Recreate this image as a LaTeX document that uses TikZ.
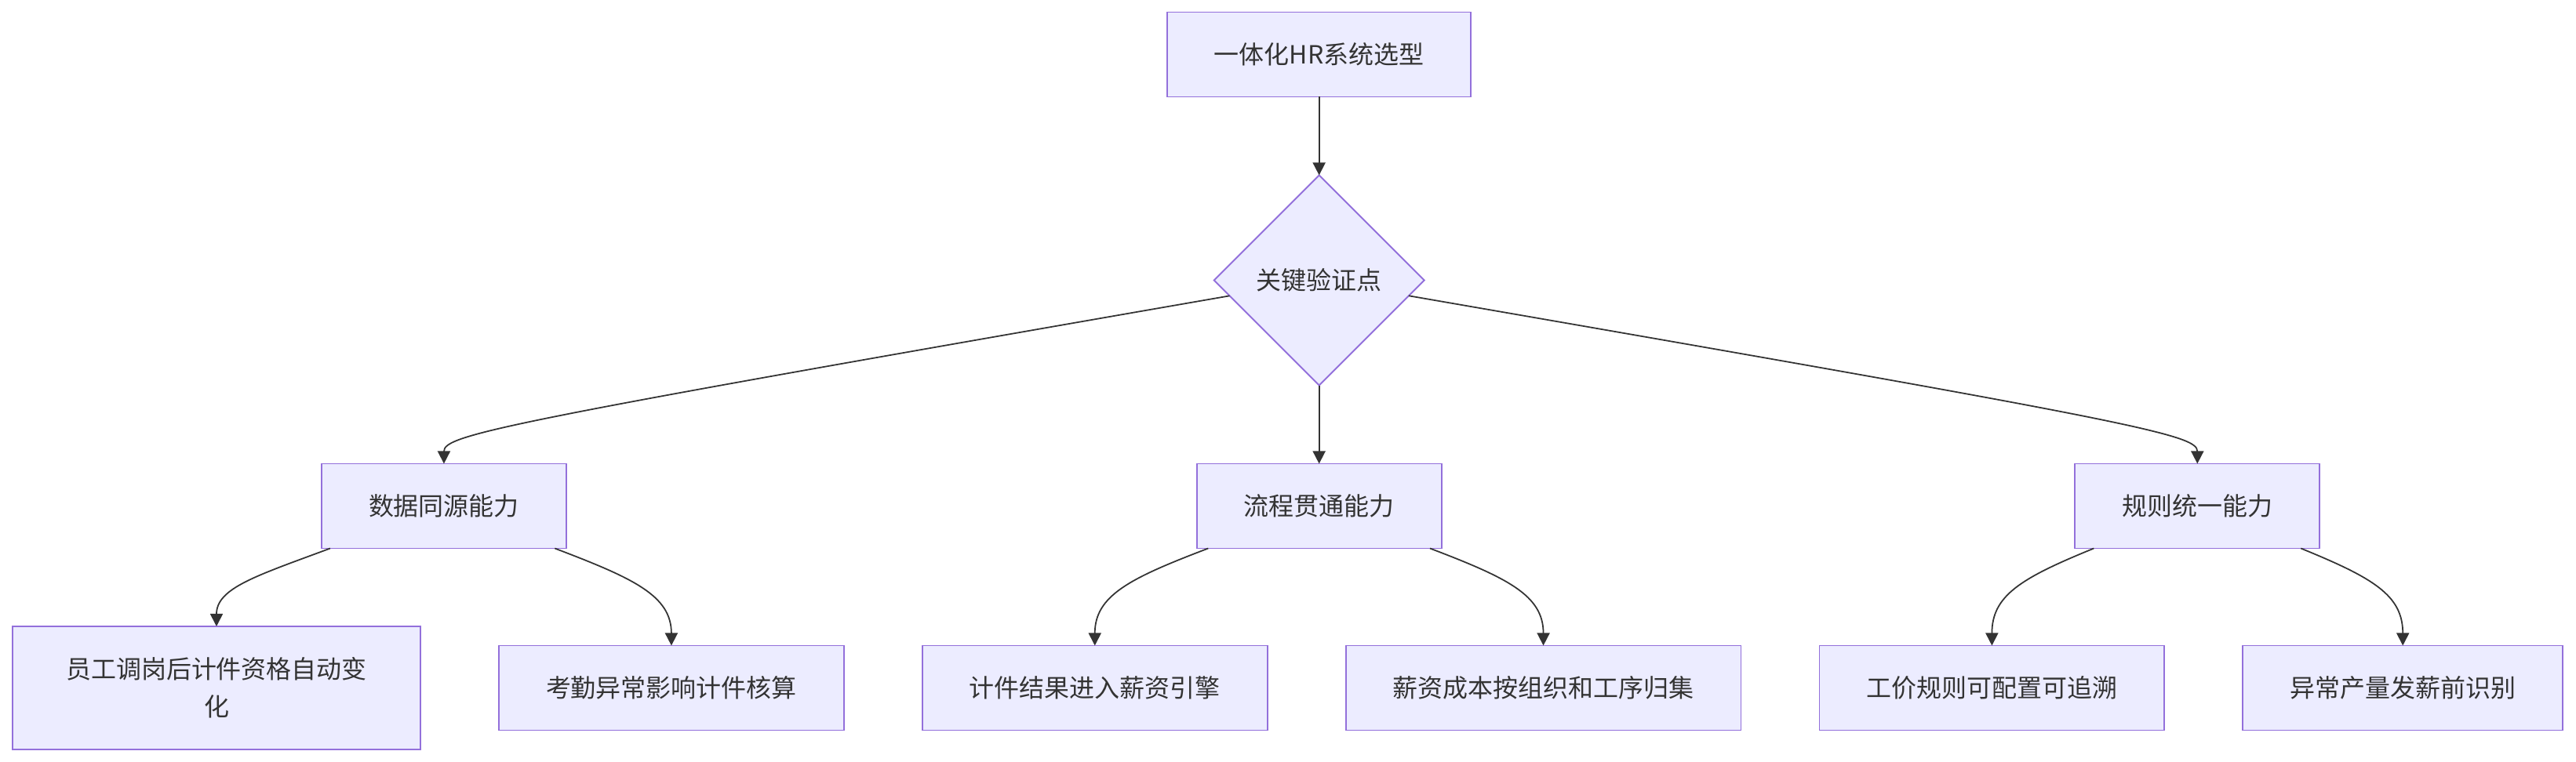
\documentclass[tikz,border=0pt]{standalone}
\usepackage{fontspec}
\newfontfamily\hrfont{Noto Sans CJK SC}
\definecolor{hrFill}{HTML}{ECECFF}
\definecolor{hrStroke}{HTML}{9370DB}
\definecolor{hrLine}{HTML}{333333}
\usepackage{tikz}
\usetikzlibrary{arrows.meta,positioning,shapes.geometric,calc}

\begin{document}
\begin{tikzpicture}[
  box/.style={draw=hrStroke, fill=hrFill, line width=1.1pt, minimum height=2.16cm,
              inner xsep=1.2cm, inner ysep=0pt, outer sep=0pt, text=hrLine,
              align=center, font=\hrfont\fontsize{18.2}{27.3}\selectfont},
  check/.style={box, diamond, aspect=1, minimum width=5.36cm,
                minimum height=5.36cm, inner sep=0pt},
  link/.style={-{Triangle[length=0.32cm, width=0.32cm]}, line width=1pt, hrLine}
]
  \useasboundingbox (-5.52,-1.89) rectangle +(65.68,19.44);

  \node[box, minimum height=3.14cm, text width=8cm] (e1) at (0,0) {员工调岗后计件资格自动变\\化};
  \node[box, right=2cm of e1] (e2) {考勤异常影响计件核算};
  \node[box, right=2cm of e2] (e3) {计件结果进入薪资引擎};
  \node[box, right=2cm of e3] (e4) {薪资成本按组织和工序归集};
  \node[box, right=2cm of e4] (e5) {工价规则可配置可追溯};
  \node[box, right=2cm of e5] (e6) {异常产量发薪前识别};

  \node[box] (d1) at ($(e1)!0.5!(e2)+(0,4.64)$) {数据同源能力};
  \node[box] (d2) at ($(e3)!0.5!(e4)+(0,4.64)$) {流程贯通能力};
  \node[box] (d3) at ($(e5)!0.5!(e6)+(0,4.64)$) {规则统一能力};
  \node[check, above=2cm of d2] (key) {关键验证点};
  \node[box, above=2cm of key]  (top) {一体化HR系统选型};

  \draw[link] (top) -- (key);
  \draw[link] (key) -- (d2);
  \draw[link] (key) .. controls +(-20.92,-3.64) and +(0,0.74) .. (d1.north);
  \draw[link] (key) .. controls +(21,-3.64) and +(0,0.74) .. (d3.north);
  \draw[link] (d1) .. controls +(-4.78,-1.78) and +(0,0.98) .. (e1.north);
  \draw[link] (d1) .. controls +(4.82,-1.84) and +(0,1.28) .. (e2.north);
  \draw[link] (d2) .. controls +(-4.82,-1.84) and +(0,1.28) .. (e3.north);
  \draw[link] (d2) .. controls +(4.82,-1.84) and +(0,1.28) .. (e4.north);
  \draw[link] (d3) .. controls +(-4.5,-1.84) and +(0,1.28) .. (e5.north);
  \draw[link] (d3) .. controls +(4.5,-1.84) and +(0,1.28) .. (e6.north);
\end{tikzpicture}
\end{document}
